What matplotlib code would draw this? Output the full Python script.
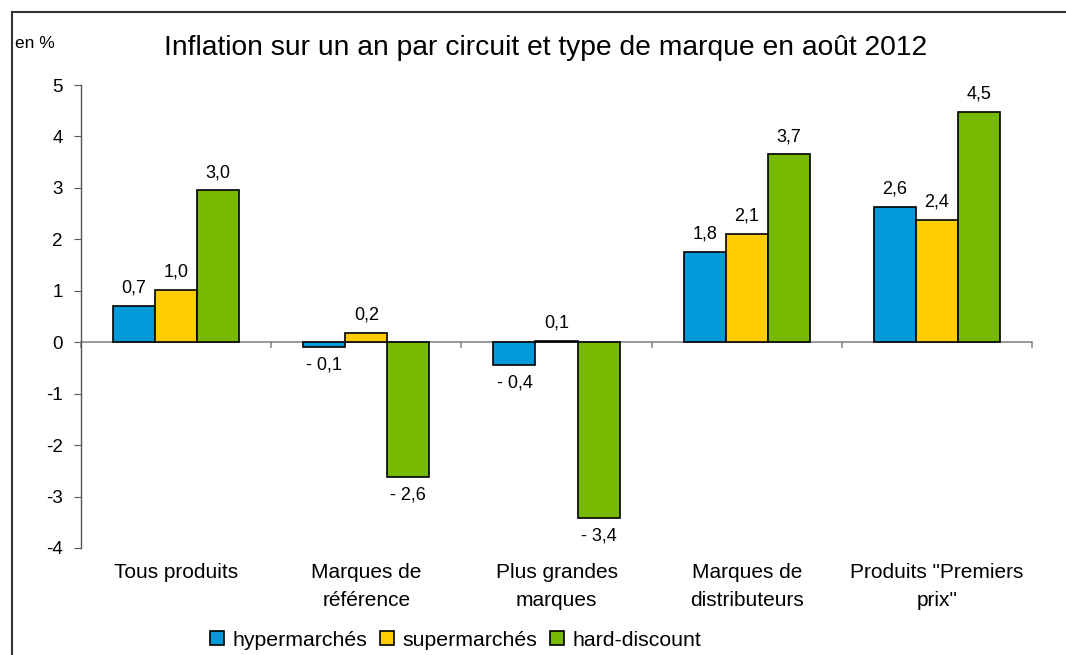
import matplotlib
matplotlib.use("Agg")
import matplotlib.pyplot as plt
import numpy as np
from matplotlib.lines import Line2D
from matplotlib.patches import Patch

plt.rcParams['font.family'] = ['Liberation Sans', 'DejaVu Sans']

categories = ["Tous produits", "Marques de\nréférence", "Plus grandes\nmarques",
              "Marques de\ndistributeurs", "Produits \"Premiers\nprix\""]
series = ["hypermarchés", "supermarchés", "hard-discount"]
hyper = [0.70, -0.10, -0.45, 1.75, 2.63]
super_ = [1.02, 0.18, 0.03, 2.10, 2.38]
hard = [2.95, -2.62, -3.42, 3.65, 4.48]
hyper_lbl = ["0,7", "- 0,1", "- 0,4", "1,8", "2,6"]
super_lbl = ["1,0", "0,2", "0,1", "2,1", "2,4"]
hard_lbl = ["3,0", "- 2,6", "- 3,4", "3,7", "4,5"]
yticks = [5, 4, 3, 2, 1, 0, -1, -2, -3, -4]
colors = ["#009ADA", "#FFCC00", "#77B900"]

fig = plt.figure(figsize=(10.66, 6.55), dpi=100)
ax = fig.add_axes([81/1066, 1-548/655, (1032-81)/1066, (548-85)/655])

x = np.arange(len(categories))
w = 0.221
for i, (vals, lbls, c) in enumerate(zip([hyper, super_, hard], [hyper_lbl, super_lbl, hard_lbl], colors)):
    pos = x + (i - 1) * w
    ax.bar(pos, vals, width=w, color=c, edgecolor="black", linewidth=1.2, zorder=3)
    for px, v, l in zip(pos, vals, lbls):
        if v >= 0:
            ax.text(px, v + 0.18, l, ha="center", va="bottom", fontsize=13)
        else:
            ax.text(px, v - 0.18, l, ha="center", va="top", fontsize=13)

ax.set_xlim(-0.5, len(categories) - 0.5)
ax.set_ylim(-4, 5)
ax.set_yticks(yticks)
ax.set_yticklabels([str(t) for t in yticks], fontsize=13.5)
ax.tick_params(axis="y", direction="out", length=5, color="#555555", pad=8)
ax.set_xticks([])
for s in ["top", "right", "bottom"]:
    ax.spines[s].set_visible(False)
ax.spines["left"].set_color("#555555")
ax.spines["left"].set_linewidth(1.0)

# zero axis line with category separator ticks
ax.axhline(0, color="#888888", linewidth=1.2, zorder=2)
for b in np.arange(len(categories) + 1) - 0.5:
    ax.plot([b, b], [0, -0.09], color="#888888", linewidth=1.2, clip_on=False, zorder=2)

for xi, cat in zip(x, categories):
    ax.text(xi, -4.3, cat, ha="center", va="top", fontsize=15, linespacing=1.55)

fig.text(546/1066, 1-48/655, "Inflation sur un an par circuit et type de marque en août 2012",
         ha="center", va="center", fontsize=20.3)
fig.text(15/1066, 1-44/655, "en %", ha="left", va="center", fontsize=12.5)

# outer frame
fig.add_artist(Line2D([12/1066, 12/1066], [0, 1-12/655], color="#333333", linewidth=1.5))
fig.add_artist(Line2D([12/1066, 1], [1-12/655, 1-12/655], color="#333333", linewidth=1.5))

handles = [Patch(facecolor=c, edgecolor="black", linewidth=1.2) for c in colors]
fig.legend(handles, series, loc="center", bbox_to_anchor=(456/1066, 1-640/655), ncol=3,
           frameon=False, fontsize=15.3, handlelength=0.65, handleheight=0.65,
           handletextpad=0.4, columnspacing=0.6, borderpad=0)

fig.savefig("out.png", dpi=100)
